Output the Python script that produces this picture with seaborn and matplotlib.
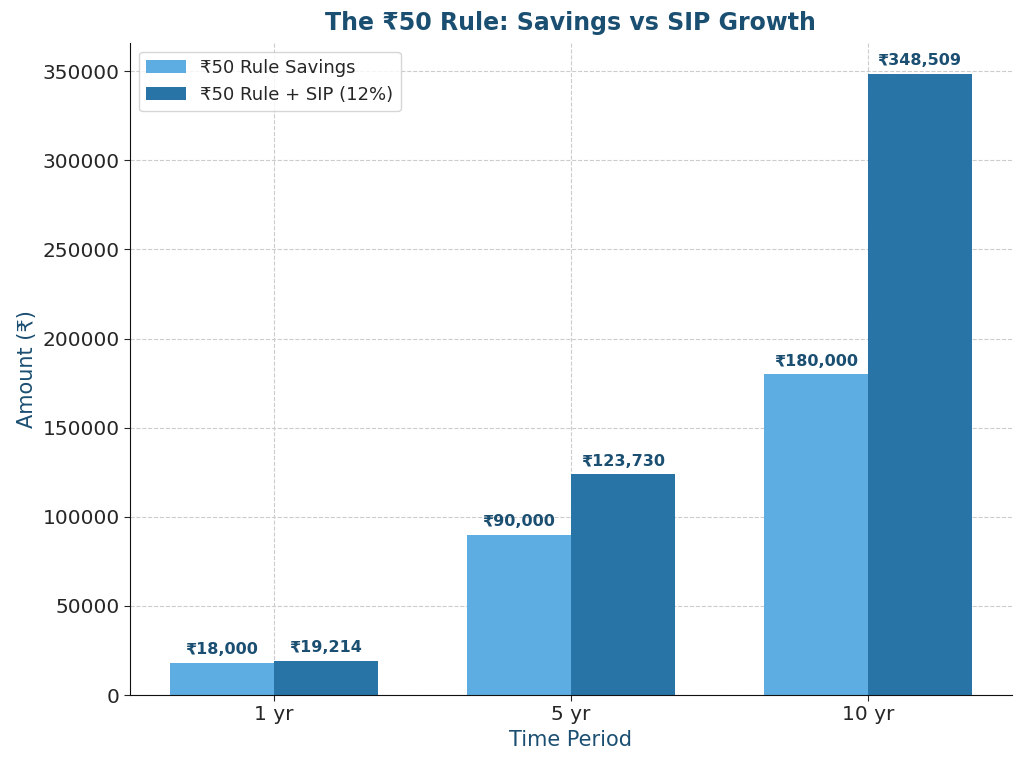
import matplotlib
matplotlib.use("Agg")
import matplotlib.pyplot as plt
import pandas as pd
import seaborn as sns

periods = ["1 yr", "5 yr", "10 yr"]
savings = [18000, 90000, 180000]
sip = [19214, 123730, 348509]
series_names = ["₹50 Rule Savings", "₹50 Rule + SIP (12%)"]

df = pd.DataFrame({
    "period": periods * 2,
    "amount": savings + sip,
    "series": [series_names[0]] * 3 + [series_names[1]] * 3,
})

sns.set_style("white")
plt.rcParams['font.family'] = ['DejaVu Sans']

text_col = "#1B4F72"
fig, ax = plt.subplots(figsize=(10.24, 7.65), dpi=100)
sns.barplot(data=df, x="period", y="amount", hue="series", order=periods,
            hue_order=series_names, palette=["#5DADE2", "#2874A6"],
            width=0.7, gap=0, linewidth=0, saturation=1, ax=ax)

for cont in ax.containers:
    ax.bar_label(cont, labels=[f"₹{v:,.0f}" for v in cont.datavalues],
                 padding=4, fontsize=11.5, fontweight="bold", color=text_col)

ax.set_xlim(-0.485, 2.485)
ax.set_ylim(0, max(sip) * 1.05)
ax.grid(True, linestyle="--", color="#cccccc", linewidth=0.8)
ax.set_axisbelow(True)
sns.despine(ax=ax)
ax.spines["left"].set_color("#111111")
ax.spines["bottom"].set_color("#111111")
ax.tick_params(axis="both", labelsize=14.5, left=True, bottom=True, length=4)

ax.set_title("The ₹50 Rule: Savings vs SIP Growth", fontsize=17, fontweight="bold",
             color=text_col, pad=9)
ax.set_xlabel("Time Period", fontsize=15, color=text_col)
ax.set_ylabel("Amount (₹)", fontsize=15, color=text_col)
ax.legend(title=None, loc="upper left", fontsize=13, handlelength=2.2)

fig.subplots_adjust(left=0.127, right=0.988, top=0.944, bottom=0.0915)
fig.savefig("out.png", dpi=100)
